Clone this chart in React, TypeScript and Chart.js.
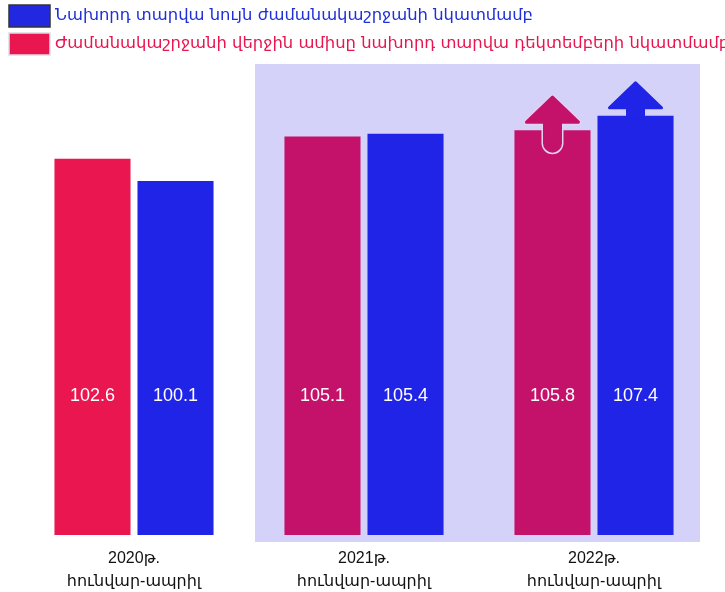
import React, { useEffect, useRef } from "react";
import { Chart, registerables } from "chart.js";

Chart.register(...registerables);

const categories: string[][] = [
  ["2020թ.", "հունվար-ապրիլ"],
  ["2021թ.", "հունվար-ապրիլ"],
  ["2022թ.", "հունվար-ապրիլ"],
];
const decemberBased = [102.6, 105.1, 105.8];
const sameperiodBased = [100.1, 105.4, 107.4];
const legendLabels = [
  "Նախորդ տարվա նույն ժամանակաշրջանի նկատմամբ",
  "Ժամանակաշրջանի վերջին ամիսը նախորդ տարվա դեկտեմբերի նկատմամբ",
];

const RED_FIRST = "#EA1650";
const RED = "#C4126A";
const BLUE = "#1F24E6";
const FONT = "'Liberation Sans', 'DejaVu Sans', sans-serif";
const ARM_FONT = "'DejaVu Sans', 'Liberation Sans', sans-serif";

const decoPlugin = {
  id: "deco",
  beforeDatasetsDraw(chart: any) {
    const { ctx, chartArea, scales } = chart;
    const x = scales.x;
    const cw = x.getPixelForValue(1) - x.getPixelForValue(0);
    const left = x.getPixelForValue(1) - cw / 2 + 6;
    const right = x.getPixelForValue(2) + cw / 2 - 9;
    ctx.save();
    ctx.fillStyle = "#D4D2F8";
    ctx.fillRect(left, chartArea.top, right - left, chartArea.bottom + 7 - chartArea.top);
    ctx.restore();
  },
  afterDatasetsDraw(chart: any) {
    const { ctx, chartArea } = chart;
    ctx.save();
    // value labels
    ctx.font = `18px ${FONT}`;
    ctx.fillStyle = "#ffffff";
    ctx.textAlign = "center";
    ctx.textBaseline = "middle";
    chart.data.datasets.forEach((ds: any, di: number) => {
      const meta = chart.getDatasetMeta(di);
      meta.data.forEach((bar: any, i: number) => {
        ctx.fillText(Number(ds.data[i]).toFixed(1), bar.x, chartArea.bottom - 139);
      });
    });
    // arrows on last group
    const drawArrow = (bar: any, color: string, shaftDown: number, outline: boolean) => {
      const cx = bar.x;
      const top = bar.y;
      const tip = top - 33;
      const headBase = top - 8;
      const hw = 26;
      const sw = 8;
      const shaftBottom = top + shaftDown;
      ctx.beginPath();
      ctx.moveTo(cx, tip);
      ctx.lineTo(cx + hw, headBase);
      ctx.lineTo(cx + sw, headBase);
      if (outline) {
        ctx.lineTo(cx + sw, shaftBottom - sw);
        ctx.arc(cx, shaftBottom - sw, sw, 0, Math.PI, false);
      } else {
        ctx.lineTo(cx + sw, shaftBottom);
        ctx.lineTo(cx - sw, shaftBottom);
      }
      ctx.lineTo(cx - sw, headBase);
      ctx.lineTo(cx - hw, headBase);
      ctx.closePath();
      ctx.lineJoin = "round";
      if (outline) {
        ctx.strokeStyle = "#E4D2F2";
        ctx.lineWidth = 6;
        ctx.stroke();
      }
      ctx.strokeStyle = color;
      ctx.lineWidth = 3;
      ctx.stroke();
      ctx.fillStyle = color;
      ctx.fill();
    };
    const last = chart.data.labels.length - 1;
    drawArrow(chart.getDatasetMeta(0).data[last], RED, 21, true);
    drawArrow(chart.getDatasetMeta(1).data[last], BLUE, 2, false);
    ctx.restore();
  },
  afterDraw(chart: any) {
    const { ctx } = chart;
    ctx.save();
    const items = [
      { text: legendLabels[0], fill: "#2228E0", border: "#333333", color: "#1F30D8", y: 5 },
      { text: legendLabels[1], fill: RED_FIRST, border: "#dddde8", color: "#E8154F", y: 33 },
    ];
    items.forEach((it) => {
      ctx.fillStyle = it.fill;
      ctx.fillRect(9, it.y, 41, 22);
      ctx.strokeStyle = it.border;
      ctx.lineWidth = 1.5;
      ctx.strokeRect(9, it.y, 41, 22);
      ctx.fillStyle = it.color;
      ctx.font = `16.4px ${ARM_FONT}`;
      ctx.textAlign = "left";
      ctx.textBaseline = "middle";
      ctx.fillText(it.text, 55, it.y + 11);
    });
    ctx.restore();
  },
};

export default function App() {
  const ref = useRef<HTMLCanvasElement>(null);
  useEffect(() => {
    if (!ref.current) return;
    const chart = new Chart(ref.current, {
      type: "bar",
      data: {
        labels: categories,
        datasets: [
          {
            label: legendLabels[1],
            data: decemberBased,
            backgroundColor: [RED_FIRST, RED, RED],
            borderWidth: 0,
            categoryPercentage: 0.722,
            barPercentage: 0.916,
          },
          {
            label: legendLabels[0],
            data: sameperiodBased,
            backgroundColor: BLUE,
            borderWidth: 0,
            categoryPercentage: 0.722,
            barPercentage: 0.916,
          },
        ],
      },
      options: {
        animation: false,
        responsive: false,
        maintainAspectRatio: false,
        layout: { padding: { top: 64, left: 19, right: 16, bottom: 1 } },
        plugins: { legend: { display: false }, tooltip: { enabled: false } },
        scales: {
          x: {
            grid: { display: false, drawTicks: false },
            border: { display: false },
            ticks: {
              color: "#111111",
              font: { size: 16, family: FONT, lineHeight: 1.44 },
              padding: 12,
              maxRotation: 0,
            },
            afterFit: (scale: any) => {
              scale.height = 56;
            },
          },
          y: { display: false, min: 60.5, max: 113.2 },
        },
      },
      plugins: [decoPlugin],
    });
    return () => chart.destroy();
  }, []);
  return (
    <div style={{ position: "fixed", left: 0, top: 0, width: 725, height: 592, background: "#ffffff" }}>
      <canvas ref={ref} width={725} height={592} style={{ display: "block" }} />
    </div>
  );
}
